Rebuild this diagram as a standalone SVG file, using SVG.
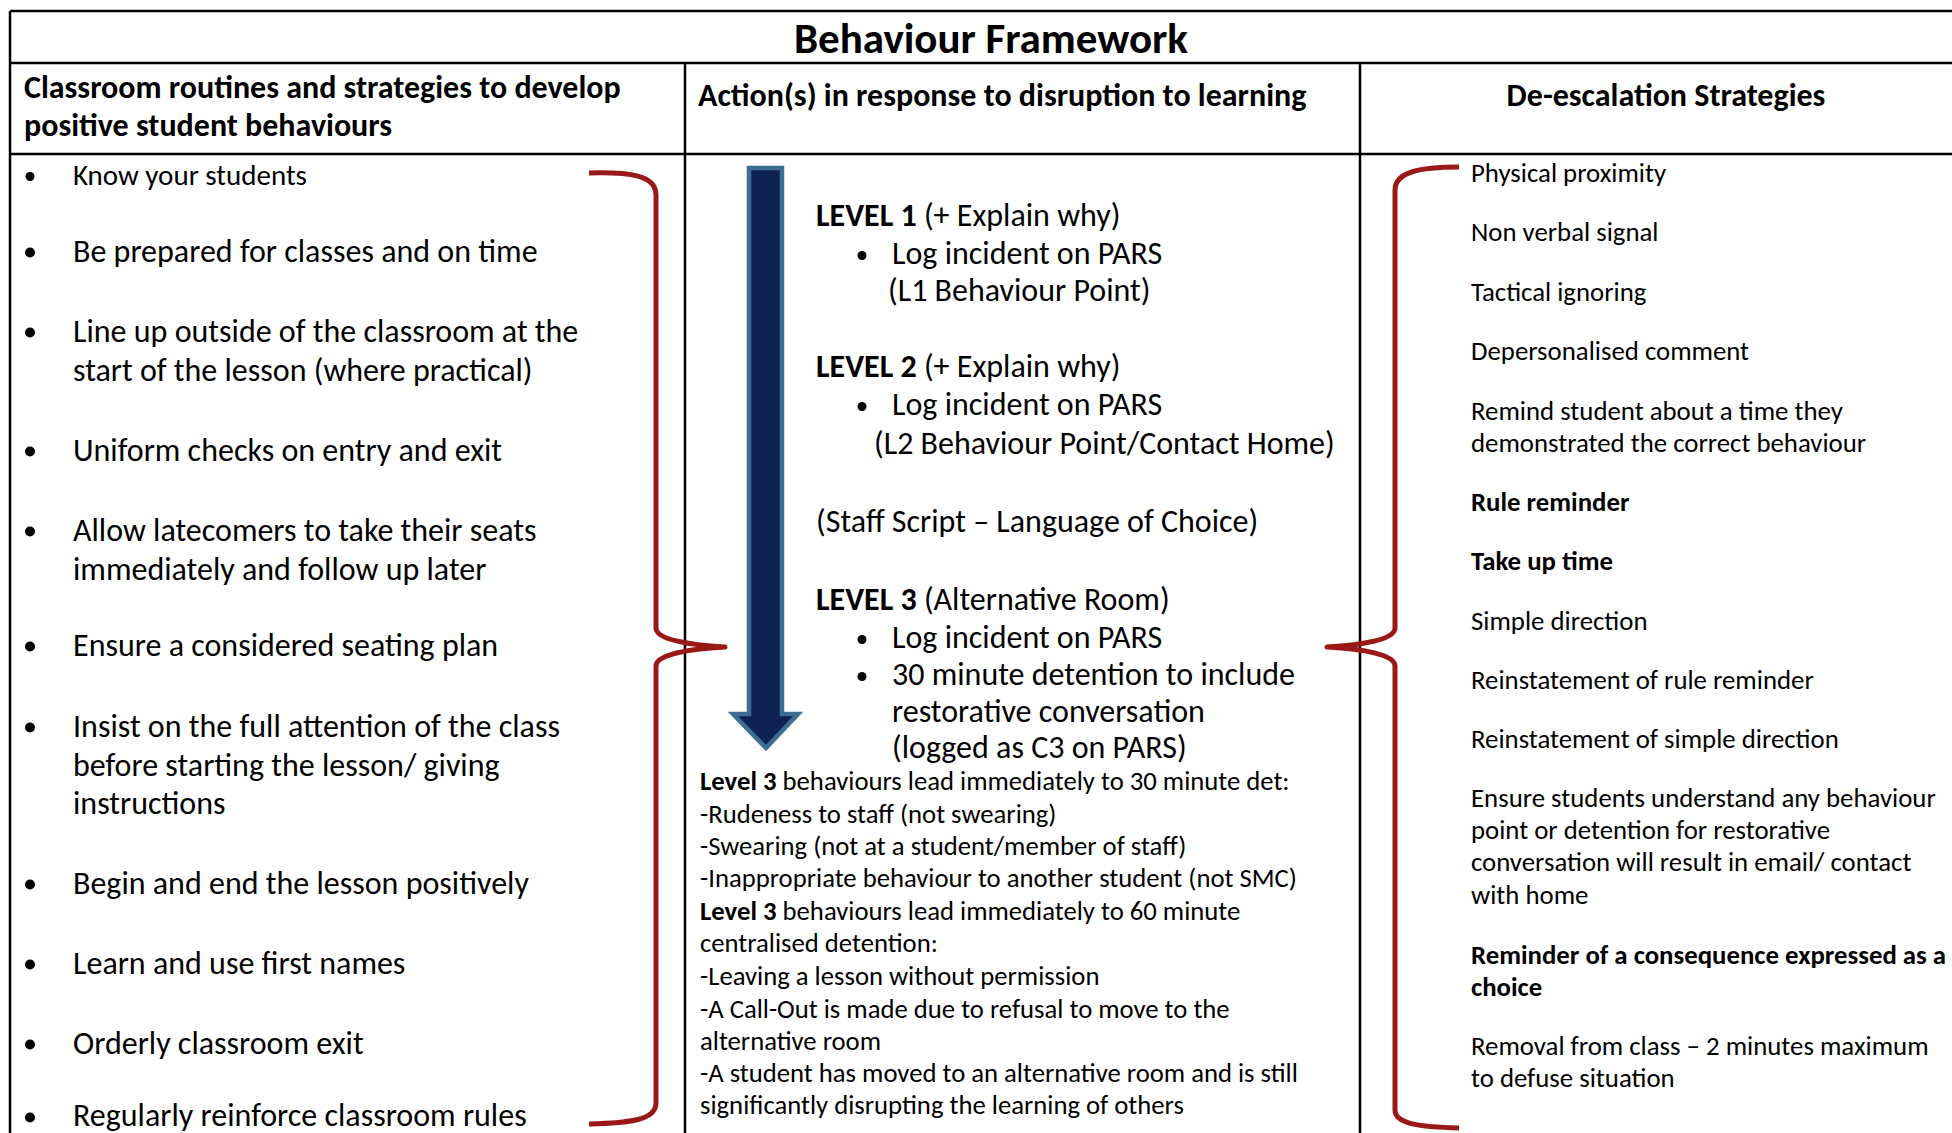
<svg xmlns="http://www.w3.org/2000/svg" width="1952" height="1133" viewBox="0 0 1952 1133">
<style>
  text { font-family: Carlito, Lato, "Open Sans", sans-serif; fill: #000; }
  .title { font-size: 43px; font-weight: bold; }
  .hdr { font-size: 32px; font-weight: bold; }
  .l { font-size: 32px; }
  .k { font-size: 29px; }
  .m { font-size: 32px; }
  .s { font-size: 26.7px; }
  .r { font-size: 26.8px; }
  .b { font-weight: bold; }
  .grid { stroke: #000; stroke-width: 2.5; fill: none; }
  .brace { stroke: #9A1818; stroke-width: 5; fill: none; stroke-linecap: butt; stroke-linejoin: round; }
  .dot { fill: #000; }
</style>

<g id="table-grid">
  <line class="grid" x1="10" y1="11" x2="1952" y2="11"/>
  <line class="grid" x1="10" y1="63" x2="1952" y2="63"/>
  <line class="grid" x1="10" y1="154" x2="1952" y2="154"/>
  <line class="grid" x1="10" y1="11" x2="10" y2="1133"/>
  <line class="grid" x1="685" y1="63" x2="685" y2="1133"/>
  <line class="grid" x1="1360" y1="63" x2="1360" y2="1133"/>
</g>

<g id="title">
  <text class="title" x="991" y="53" text-anchor="middle">Behaviour Framework</text>
</g>

<g id="header-routines">
  <text class="hdr" x="24" y="97.5">Classroom routines and strategies to develop</text>
  <text class="hdr" x="24" y="135.5">positive student behaviours</text>
</g>
<g id="header-actions">
  <text class="hdr" x="698" y="105.5">Action(s) in response to disruption to learning</text>
</g>
<g id="header-deescalation">
  <text class="hdr" x="1666" y="105.5" text-anchor="middle">De-escalation Strategies</text>
</g>

<g id="routines-list" transform="translate(0,1.5)">
  <circle class="dot" cx="30" cy="175" r="4.5"/>
  <text class="k" x="73" y="183">Know your students</text>
  <circle class="dot" cx="30" cy="251" r="5"/>
  <text class="l" x="73" y="260">Be prepared for classes and on time</text>
  <circle class="dot" cx="30" cy="331" r="5"/>
  <text class="l" x="73" y="340">Line up outside of the classroom at the</text>
  <text class="l" x="73" y="379">start of the lesson (where practical)</text>
  <circle class="dot" cx="30" cy="450" r="5"/>
  <text class="l" x="73" y="459">Uniform checks on entry and exit</text>
  <circle class="dot" cx="30" cy="530" r="5"/>
  <text class="l" x="73" y="539">Allow latecomers to take their seats</text>
  <text class="l" x="73" y="578">immediately and follow up later</text>
  <circle class="dot" cx="30" cy="645" r="5"/>
  <text class="l" x="73" y="654">Ensure a considered seating plan</text>
  <circle class="dot" cx="30" cy="726" r="5"/>
  <text class="l" x="73" y="735">Insist on the full attention of the class</text>
  <text class="l" x="73" y="774">before starting the lesson/ giving</text>
  <text class="l" x="73" y="812">instructions</text>
  <circle class="dot" cx="30" cy="883" r="5"/>
  <text class="l" x="73" y="892">Begin and end the lesson positively</text>
  <circle class="dot" cx="30" cy="963" r="5"/>
  <text class="l" x="73" y="972">Learn and use first names</text>
  <circle class="dot" cx="30" cy="1043" r="5"/>
  <text class="l" x="73" y="1052">Orderly classroom exit</text>
  <circle class="dot" cx="30" cy="1116" r="5"/>
  <text class="l" x="73" y="1124">Regularly reinforce classroom rules</text>
</g>

<g id="escalation-arrow">
  <path d="M749,168 L782,168 L782,714 L798,714 L766,748 L733,714 L749,714 Z" fill="#0E2254" stroke="#3C6E92" stroke-width="4.5" stroke-linejoin="miter"/>
</g>

<g id="actions-levels" transform="translate(0,2.5)">
  <text class="m" x="816" y="223"><tspan class="b">LEVEL 1</tspan> (+ Explain why)</text>
  <circle class="dot" cx="862" cy="253" r="4.5"/>
  <text class="m" x="892" y="261">Log incident on PARS</text>
  <text class="m" x="888" y="298">(L1 Behaviour Point)</text>

  <text class="m" x="816" y="374"><tspan class="b">LEVEL 2</tspan> (+ Explain why)</text>
  <circle class="dot" cx="862" cy="404" r="4.5"/>
  <text class="m" x="892" y="412">Log incident on PARS</text>
  <text class="m" x="874" y="451">(L2 Behaviour Point/Contact Home)</text>

  <text class="m" x="816" y="529">(Staff Script – Language of Choice)</text>

  <text class="m" x="816" y="607"><tspan class="b">LEVEL 3</tspan> (Alternative Room)</text>
  <circle class="dot" cx="862" cy="637" r="4.5"/>
  <text class="m" x="892" y="645">Log incident on PARS</text>
  <circle class="dot" cx="862" cy="674" r="4.5"/>
  <text class="m" x="892" y="682">30 minute detention to include</text>
  <text class="m" x="892" y="719">restorative conversation</text>
  <text class="m" x="892" y="755">(logged as C3 on PARS)</text>
</g>

<g id="actions-level3-detail" transform="translate(0,1.5)">
  <text class="s" x="700" y="788"><tspan class="b">Level 3</tspan> behaviours lead immediately to 30 minute det:</text>
  <text class="s" x="700" y="821">-Rudeness to staff (not swearing)</text>
  <text class="s" x="700" y="853">-Swearing (not at a student/member of staff)</text>
  <text class="s" x="700" y="885">-Inappropriate behaviour to another student (not SMC)</text>
  <text class="s" x="700" y="918"><tspan class="b">Level 3</tspan> behaviours lead immediately to 60 minute</text>
  <text class="s" x="700" y="950">centralised detention:</text>
  <text class="s" x="700" y="983">-Leaving a lesson without permission</text>
  <text class="s" x="700" y="1016">-A Call-Out is made due to refusal to move to the</text>
  <text class="s" x="700" y="1048">alternative room</text>
  <text class="s" x="700" y="1080">-A student has moved to an alternative room and is still</text>
  <text class="s" x="700" y="1112">significantly disrupting the learning of others</text>
</g>

<g id="deescalation-list" transform="translate(0,1.5)">
  <text class="r" x="1471" y="180">Physical proximity</text>
  <text class="r" x="1471" y="239">Non verbal signal</text>
  <text class="r" x="1471" y="299">Tactical ignoring</text>
  <text class="r" x="1471" y="358">Depersonalised comment</text>
  <text class="r" x="1471" y="418">Remind student about a time they</text>
  <text class="r" x="1471" y="450">demonstrated the correct behaviour</text>
  <text class="r b" x="1471" y="509">Rule reminder</text>
  <text class="r b" x="1471" y="568">Take up time</text>
  <text class="r" x="1471" y="628">Simple direction</text>
  <text class="r" x="1471" y="687">Reinstatement of rule reminder</text>
  <text class="r" x="1471" y="746">Reinstatement of simple direction</text>
  <text class="r" x="1471" y="805">Ensure students understand any behaviour</text>
  <text class="r" x="1471" y="837">point or detention for restorative</text>
  <text class="r" x="1471" y="869">conversation will result in email/ contact</text>
  <text class="r" x="1471" y="902">with home</text>
  <text class="r b" x="1471" y="962">Reminder of a consequence expressed as a</text>
  <text class="r b" x="1471" y="994">choice</text>
  <text class="r" x="1471" y="1053">Removal from class – 2 minutes maximum</text>
  <text class="r" x="1471" y="1085">to defuse situation</text>
</g>

<g id="connectors">
  <path class="brace" d="M589,173 C630,172 656,175 656,195 L656,628 C656,640 690,645 725,647 C690,649 656,654 656,666 L656,1103 C656,1120 630,1123 589,1124"/>
  <path class="brace" d="M1459,167 C1420,167 1395,172 1395,190 L1395,628 C1395,640 1362,645 1327,647 C1362,649 1395,654 1395,666 L1395,1110 C1395,1124 1420,1127 1459,1128"/>
</g>
</svg>
